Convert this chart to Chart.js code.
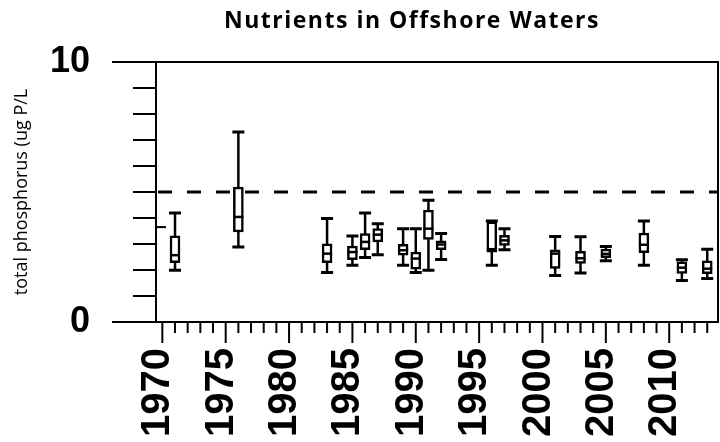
<!DOCTYPE html>
<html><head><meta charset="utf-8">
<script src="https://cdn.jsdelivr.net/npm/chart.js@4/dist/chart.umd.min.js"></script>
<style>html,body{margin:0;padding:0;background:#fff}#wrap{width:720px;height:442px}</style>
</head><body><div id="wrap"><canvas id="c" width="720" height="442"></canvas></div>
<script>
const chartTitle = 'Nutrients in Offshore Waters';
const yAxisTitle = 'total phosphorus (ug P/L';
const years       = [1971, 1976, 1983, 1985, 1986, 1987, 1989, 1990, 1991, 1992, 1996, 1997, 2001, 2003, 2005, 2008, 2011, 2013];
const whiskerHigh = [4.19, 7.31, 3.98, 3.31, 4.19, 3.78, 3.59, 3.59, 4.68, 3.40, 3.88, 3.59, 3.29, 3.28, 2.90, 3.88, 2.39, 2.80];
const q3          = [3.31, 5.19, 3.01, 2.92, 3.40, 3.59, 2.99, 2.69, 4.30, 3.12, 3.85, 3.33, 2.78, 2.72, 2.80, 3.42, 2.31, 2.35];
const median      = [2.57, 4.04, 2.63, 2.69, 3.08, 3.36, 2.76, 2.44, 3.59, 2.98, 2.80, 3.14, 2.63, 2.45, 2.62, 2.97, 2.09, 2.05];
const q1          = [2.28, 3.46, 2.28, 2.40, 2.78, 3.08, 2.57, 2.03, 3.18, 2.78, 2.69, 2.95, 2.06, 2.25, 2.47, 2.67, 1.87, 1.86];
const whiskerLow  = [1.99, 2.88, 1.90, 2.18, 2.48, 2.59, 2.18, 1.90, 1.99, 2.40, 2.18, 2.78, 1.79, 1.88, 2.36, 2.18, 1.60, 1.67];
const xLabelTicks = [1970, 1975, 1980, 1985, 1990, 1995, 2000, 2005, 2010];
const xMinorTicks = [1970,1971,1972,1973,1974,1975,1976,1977,1978,1979,1980,1981,1982,1983,1984,1985,1986,1987,1988,1989,1990,1991,1992,1993,1994,1995,1996,1997,1998,1999,2000,2001,2002,2003,2004,2005,2006,2007,2008,2009,2010,2011,2012,2013];
const yLabelTicks = [0, 10];
const yMinorTicks = [0,1,2,3,4,5,6,7,8,9,10];
const guideValue = 5;
const innerTickValue = 3.65;

function zeroPad(s) { s.paddingLeft = 0; s.paddingRight = 0; s.paddingTop = 0; s.paddingBottom = 0; }

const boxExtras = {
  id: 'boxExtras',
  beforeDatasetsDraw(chart) {
    const {ctx, chartArea: a, scales: {x, y}} = chart;
    ctx.save();
    ctx.strokeStyle = '#000';
    ctx.lineWidth = 3;
    ctx.setLineDash([14, 15]);
    const gy = y.getPixelForValue(guideValue);
    ctx.beginPath(); ctx.moveTo(a.left + 2, gy); ctx.lineTo(a.right, gy); ctx.stroke();
    ctx.setLineDash([]);
    years.forEach((yr, i) => {
      const px = x.getPixelForValue(yr);
      const hi = y.getPixelForValue(whiskerHigh[i]);
      const lo = y.getPixelForValue(whiskerLow[i]);
      ctx.lineWidth = 2.5;
      ctx.beginPath(); ctx.moveTo(px, hi); ctx.lineTo(px, lo); ctx.stroke();
      ctx.lineWidth = 3;
      ctx.beginPath(); ctx.moveTo(px - 6, hi); ctx.lineTo(px + 6, hi);
      ctx.moveTo(px - 6, lo); ctx.lineTo(px + 6, lo); ctx.stroke();
    });
    ctx.restore();
  },
  afterDatasetsDraw(chart) {
    const {ctx, scales: {x, y}} = chart;
    ctx.save();
    ctx.strokeStyle = '#000';
    ctx.lineWidth = 2.5;
    years.forEach((yr, i) => {
      const px = x.getPixelForValue(yr);
      const my = y.getPixelForValue(median[i]);
      ctx.beginPath(); ctx.moveTo(px - 5, my); ctx.lineTo(px + 5, my); ctx.stroke();
    });
    ctx.restore();
  },
  afterDraw(chart) {
    const {ctx, chartArea: a, scales: {x, y}} = chart;
    ctx.save();
    ctx.strokeStyle = '#000';
    ctx.lineWidth = 2;
    ctx.beginPath();
    ctx.moveTo(a.left, a.top); ctx.lineTo(a.right, a.top); ctx.lineTo(a.right, a.bottom); ctx.lineTo(a.left, a.bottom); ctx.closePath();
    ctx.stroke();
    yMinorTicks.forEach(v => {
      const py = y.getPixelForValue(v);
      const len = yLabelTicks.includes(v) ? 44 : 23;
      ctx.beginPath(); ctx.moveTo(a.left - len, py); ctx.lineTo(a.left, py); ctx.stroke();
    });
    xMinorTicks.forEach(v => {
      const px = x.getPixelForValue(v);
      const len = xLabelTicks.includes(v) ? 21 : 11;
      ctx.beginPath(); ctx.moveTo(px, a.bottom); ctx.lineTo(px, a.bottom + len); ctx.stroke();
    });
    const iy = y.getPixelForValue(innerTickValue);
    ctx.beginPath(); ctx.moveTo(a.left, iy); ctx.lineTo(a.left + 10, iy); ctx.stroke();
    ctx.fillStyle = '#000';
    ctx.font = 'bold 23px "Open Sans"';
    ctx.letterSpacing = '1.5px';
    ctx.textAlign = 'center';
    ctx.textBaseline = 'alphabetic';
    ctx.fillText(chartTitle, 412, 28);
    ctx.restore();
  }
};

new Chart(document.getElementById('c'), {
  type: 'bar',
  data: {
    datasets: [{
      data: years.map((yr, i) => ({x: yr, y: [q1[i], q3[i]]})),
      backgroundColor: '#fff',
      borderColor: '#000',
      borderWidth: 2.5,
      borderSkipped: false,
      barThickness: 10
    }]
  },
  options: {
    responsive: false,
    animation: false,
    layout: {padding: {top: 62, right: 2, left: 0, bottom: 0}},
    plugins: {legend: {display: false}, tooltip: {enabled: false}, title: {display: false}},
    scales: {
      x: {
        type: 'linear', min: 1969.5, max: 2013.85, offset: false,
        grid: {display: false, drawTicks: false, offset: false}, border: {display: false},
        afterBuildTicks: s => { s.ticks = xLabelTicks.map(v => ({value: v})); },
        afterFit: s => { s.height = 120; zeroPad(s); },
        ticks: {autoSkip: false, minRotation: 90, maxRotation: 90, padding: 26, labelOffset: -4, color: '#000',
          font: {family: 'Liberation Sans', weight: 'bold', size: 40}, callback: v => String(v)}
      },
      y: {
        min: 0, max: 10,
        grid: {display: false, drawTicks: false}, border: {display: false},
        afterBuildTicks: s => { s.ticks = yLabelTicks.map(v => ({value: v})); },
        afterFit: s => { s.width = 156; zeroPad(s); },
        ticks: {padding: 66, color: '#000', font: {family: 'Liberation Sans', weight: 'bold', size: 36}, callback: v => String(v)},
        title: {display: true, text: yAxisTitle, color: '#000', font: {family: 'Open Sans', size: 18}, padding: {top: 11, bottom: 0}}
      }
    }
  },
  plugins: [boxExtras]
});
</script>
</body></html>
